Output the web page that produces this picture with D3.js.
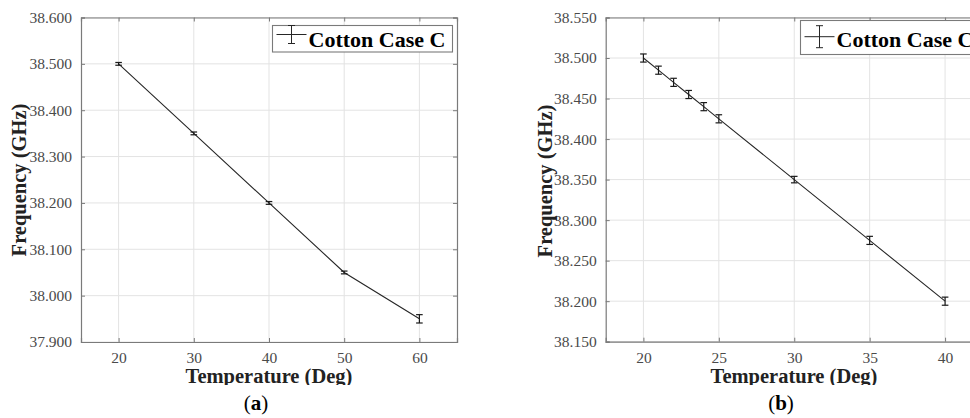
<!DOCTYPE html>
<html><head><meta charset="utf-8">
<script src="https://cdn.jsdelivr.net/npm/d3@7"></script>
<style>body{margin:0;background:#fff}svg{display:block}</style>
</head><body>
<svg id="c" width="970" height="418"></svg>
<script>
// Panel (a)
const tempA = [20, 30, 40, 50, 60];
const freqA = [38.500, 38.350, 38.200, 38.050, 37.950];
const errA  = [0.003, 0.003, 0.003, 0.003, 0.009];
const xTicksA = [20, 30, 40, 50, 60];
const yTicksA = [37.9, 38.0, 38.1, 38.2, 38.3, 38.4, 38.5, 38.6];
// Panel (b)
const tempB = [20, 21, 22, 23, 24, 25, 30, 35, 40];
const freqB = [38.500, 38.485, 38.470, 38.455, 38.440, 38.425, 38.350, 38.275, 38.200];
const errB  = [0.005, 0.005, 0.005, 0.005, 0.005, 0.005, 0.004, 0.005, 0.005];
const xTicksB = [20, 25, 30, 35, 40];
const yTicksB = [38.15, 38.2, 38.25, 38.3, 38.35, 38.4, 38.45, 38.5, 38.55];
const legendLabel = "Cotton Case C";
const xLabel = "Temperature (Deg)";
const yLabel = "Frequency (GHz)";

const svg = d3.select("#c");
const serif = "'Liberation Serif', 'DejaVu Serif', serif";

const defs = svg.append("defs");
defs.append("clipPath").attr("id","xlclip").append("rect")
  .attr("x",0).attr("y",0).attr("width",970).attr("height",385);

function panel(o){
  const x = d3.scaleLinear().domain(o.xDomain).range([o.left, o.right]);
  const y = d3.scaleLinear().domain(o.yDomain).range([o.bottom, o.top]);
  const g = svg.append("g");
  // grid
  g.selectAll(".gx").data(o.xTicks).join("line")
    .attr("x1", d=>x(d)).attr("x2", d=>x(d)).attr("y1", o.top).attr("y2", o.bottom)
    .attr("stroke", "#e3e3e3").attr("stroke-width", 1);
  g.selectAll(".gy").data(o.yTicks).join("line")
    .attr("x1", o.left).attr("x2", o.right).attr("y1", d=>y(d)).attr("y2", d=>y(d))
    .attr("stroke", "#e3e3e3").attr("stroke-width", 1);
  // axes via d3
  const fmtY = d3.format(".3f");
  const axB = g.append("g").attr("transform", `translate(0,${o.bottom})`)
    .call(d3.axisBottom(x).tickValues(o.xTicks).tickSize(-4).tickPadding(10).tickFormat(d3.format("d")));
  const axT = g.append("g").attr("transform", `translate(0,${o.top})`)
    .call(d3.axisTop(x).tickValues(o.xTicks).tickSize(-4).tickFormat(""));
  const axL = g.append("g").attr("transform", `translate(${o.left},0)`)
    .call(d3.axisLeft(y).tickValues(o.yTicks).tickSize(-4).tickPadding(9).tickFormat(fmtY));
  const axR = g.append("g").attr("transform", `translate(${o.right},0)`)
    .call(d3.axisRight(y).tickValues(o.yTicks).tickSize(-4).tickFormat(""));
  [axB, axT, axL, axR].forEach(a=>{
    a.select(".domain").attr("stroke", "#7a7a7a").attr("stroke-width", 1.2);
    a.selectAll(".tick line").attr("stroke", "#7a7a7a");
    a.selectAll(".tick text").attr("fill", "#4a4a4a").style("font-family", serif).style("font-size", "15.5px");
  });
  axB.selectAll(".tick text").attr("dy", "0.71em");
  // line
  const pts = o.xs.map((t,i)=>({t, f:o.ys[i], e:o.es[i]}));
  g.append("path").datum(pts)
    .attr("d", d3.line().x(d=>x(d.t)).y(d=>y(d.f)))
    .attr("fill","none").attr("stroke","#262626").attr("stroke-width",1.1);
  // error bars
  const eb = g.selectAll(".eb").data(pts).join("g").attr("stroke","#1a1a1a").attr("stroke-width",1.2);
  eb.append("line").attr("x1",d=>x(d.t)).attr("x2",d=>x(d.t)).attr("y1",d=>y(d.f-d.e)).attr("y2",d=>y(d.f+d.e));
  eb.append("line").attr("x1",d=>x(d.t)-3.3).attr("x2",d=>x(d.t)+3.3).attr("y1",d=>y(d.f-d.e)).attr("y2",d=>y(d.f-d.e));
  eb.append("line").attr("x1",d=>x(d.t)-3.3).attr("x2",d=>x(d.t)+3.3).attr("y1",d=>y(d.f+d.e)).attr("y2",d=>y(d.f+d.e));
  // legend
  const L = o.legend;
  const lg = g.append("g");
  lg.append("rect").attr("x",L.x).attr("y",L.y).attr("width",L.w).attr("height",L.h)
    .attr("fill","#fff").attr("stroke","#7a7a7a").attr("stroke-width",1.1);
  lg.append("line").attr("x1",L.x+4).attr("x2",L.x+34).attr("y1",L.ly).attr("y2",L.ly).attr("stroke","#262626");
  lg.append("line").attr("x1",L.x+19).attr("x2",L.x+19).attr("y1",L.ly-L.eh).attr("y2",L.ly+L.eh).attr("stroke","#262626");
  lg.append("line").attr("x1",L.x+15.5).attr("x2",L.x+22.5).attr("y1",L.ly-L.eh).attr("y2",L.ly-L.eh).attr("stroke","#262626");
  lg.append("line").attr("x1",L.x+15.5).attr("x2",L.x+22.5).attr("y1",L.ly+L.eh).attr("y2",L.ly+L.eh).attr("stroke","#262626");
  lg.append("text").attr("x",L.x+36).attr("y",L.ty).text(legendLabel)
    .attr("fill","#000").style("font-family",serif).style("font-weight","bold").style("font-size","22px");
  // axis labels
  g.append("text").attr("x",(o.labelCx)).attr("y",382.5).attr("text-anchor","middle")
    .attr("clip-path","url(#xlclip)")
    .attr("fill","#222").style("font-family",serif).style("font-weight","bold").style("font-size","20.5px").text(xLabel);
  g.append("text").attr("transform",`translate(${o.ylx},${o.yly}) rotate(-90)`).attr("text-anchor","middle")
    .attr("fill","#222").style("font-family",serif).style("font-weight","bold").style("font-size","20.5px").text(yLabel);
  g.append("text").attr("x",o.capX).attr("y",410).attr("text-anchor","middle")
    .attr("fill","#000").style("font-family",serif).style("font-size","21px")
    .html(`(<tspan font-weight="bold">${o.cap}</tspan>)`);
}

panel({xDomain:[15,65], yDomain:[37.9,38.6], left:81, right:457, top:17.5, bottom:342,
  xTicks:xTicksA, yTicks:yTicksA, xs:tempA, ys:freqA, es:errA,
  legend:{x:272.5, y:25.5, w:180, h:26.5, ly:34.5, eh:9, ty:47},
  labelCx:269, ylx:26, yly:180, capX:256, cap:"a"});

panel({xDomain:[17.5,42.5], yDomain:[38.15,38.55], left:605.7, right:982.8, top:17.5, bottom:341.7,
  xTicks:xTicksB, yTicks:yTicksB, xs:tempB, ys:freqB, es:errB,
  legend:{x:800.5, y:20.5, w:178, h:34, ly:36.7, eh:11, ty:46.5},
  labelCx:794, ylx:551.5, yly:181, capX:781, cap:"b"});
</script>
</body></html>
